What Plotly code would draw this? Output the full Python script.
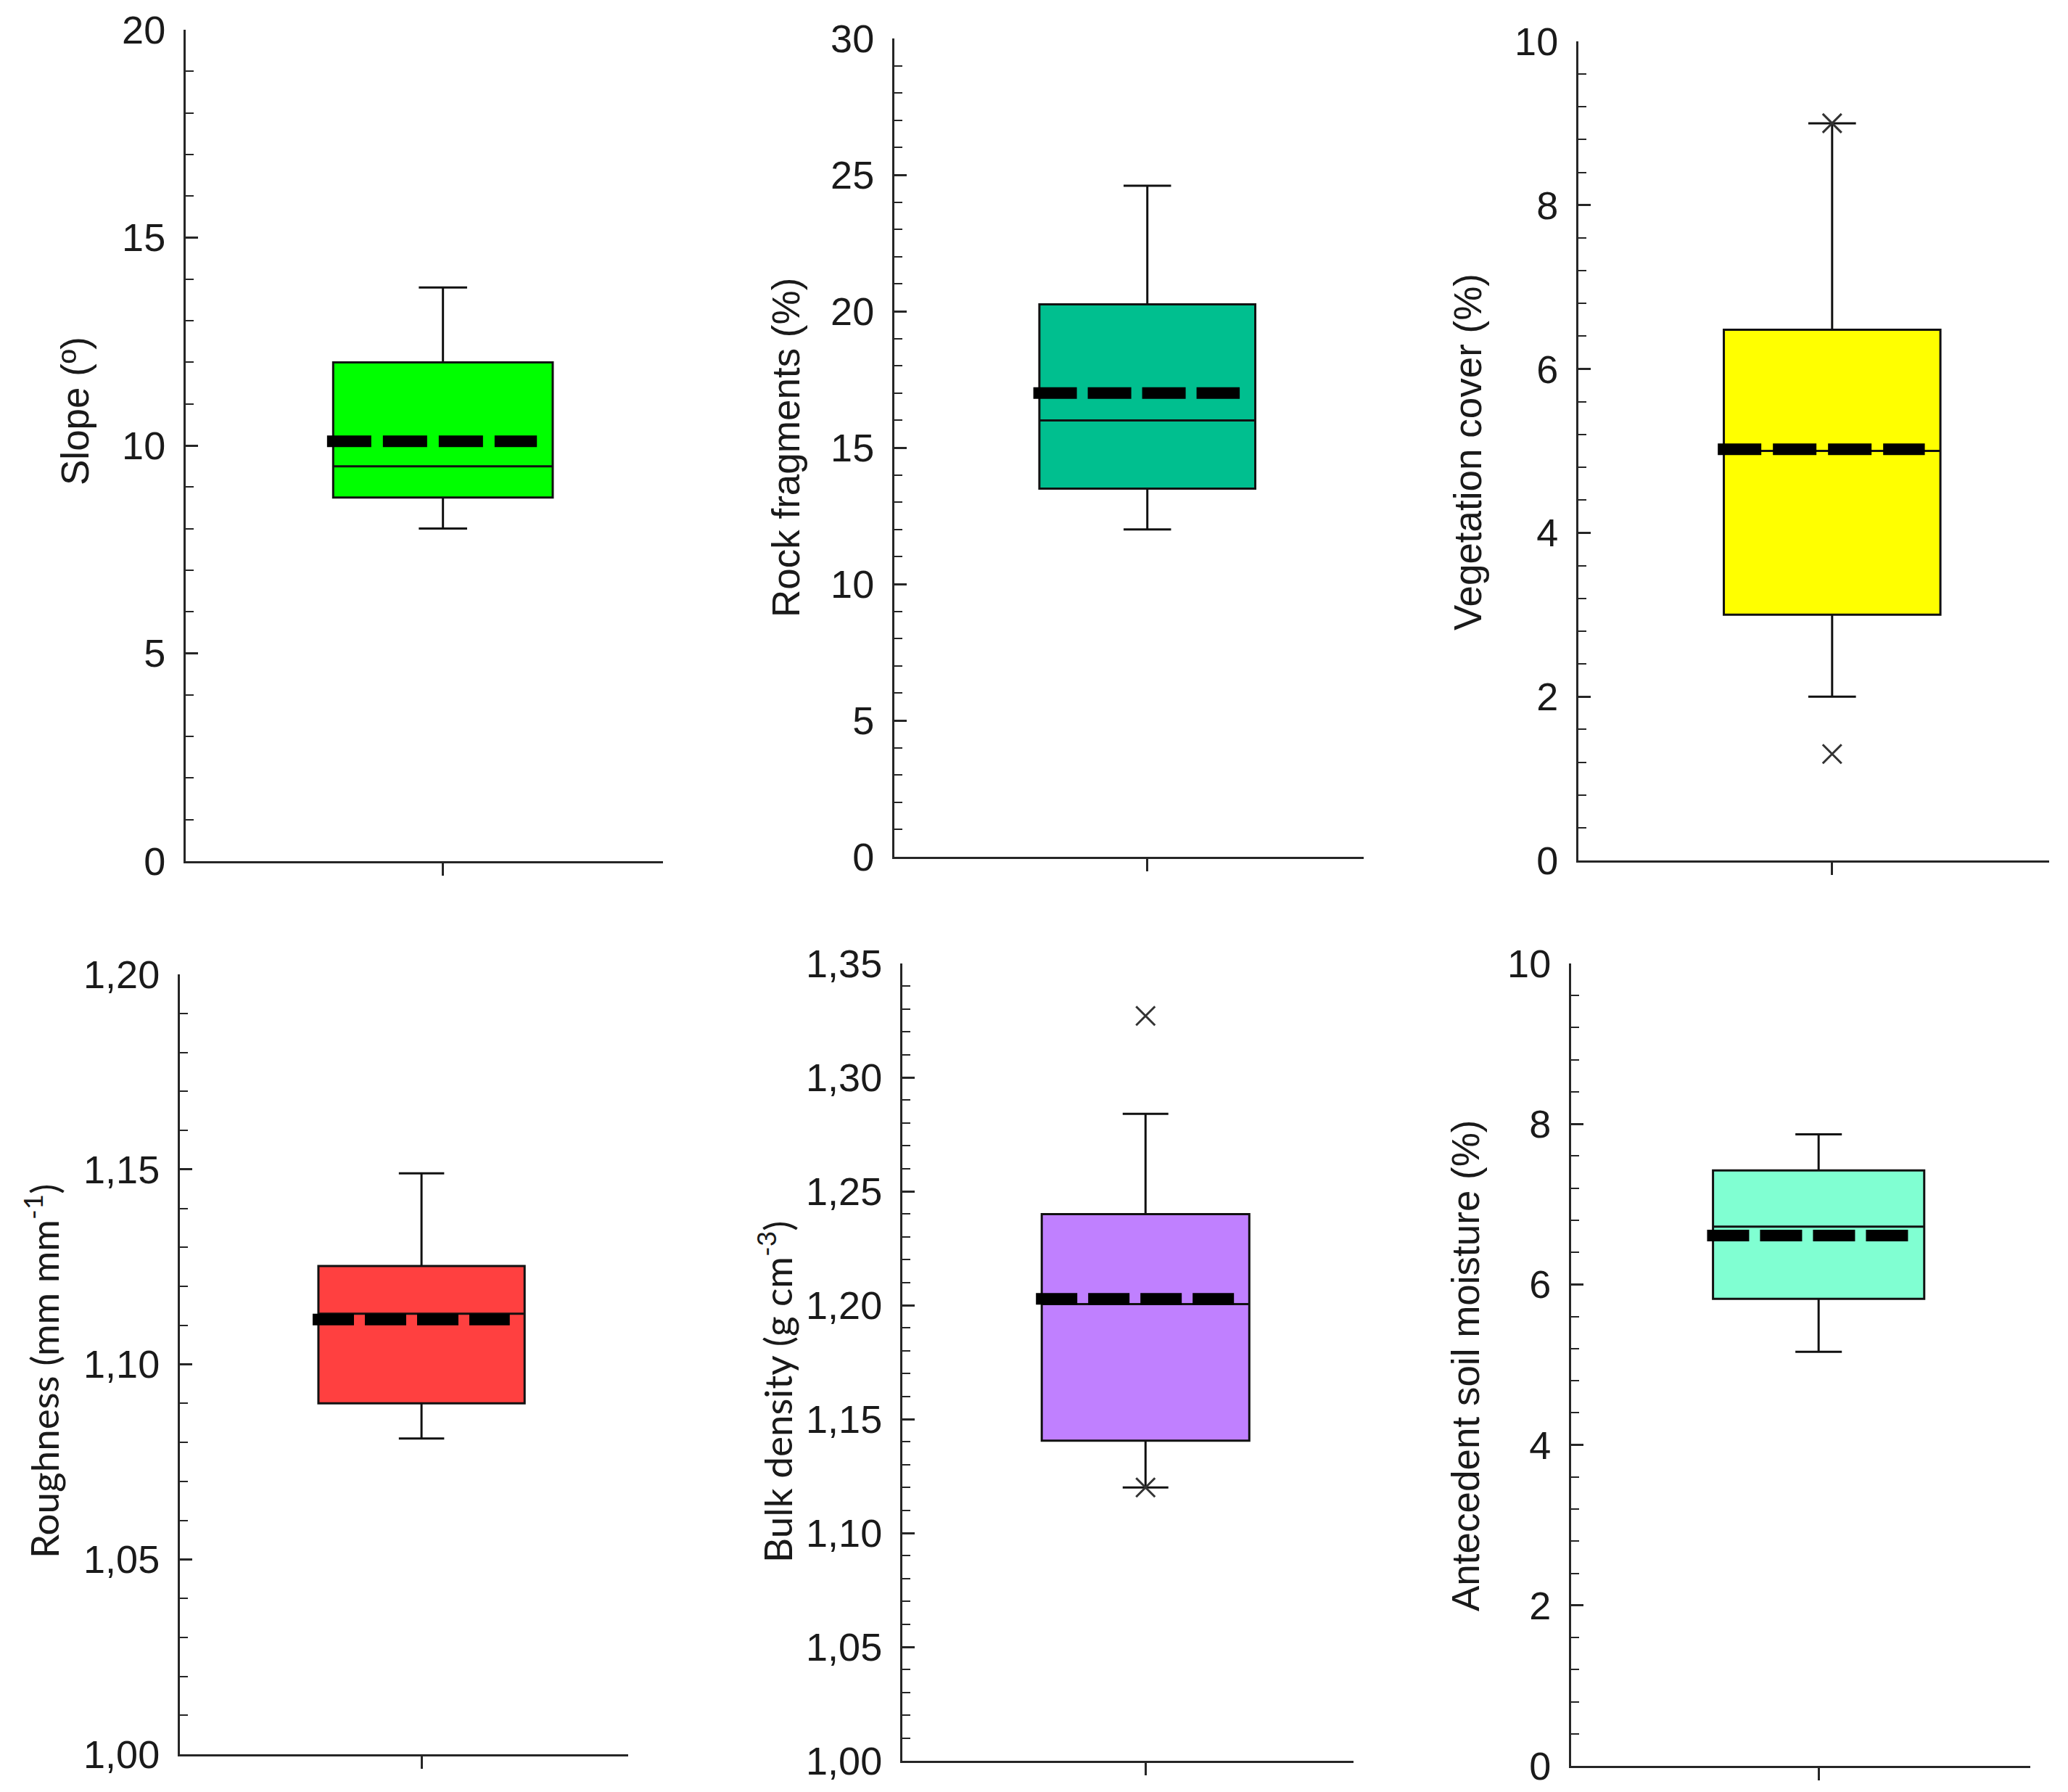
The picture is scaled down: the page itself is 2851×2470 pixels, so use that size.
import plotly.graph_objects as go

W, H = 2851, 2470

# --- data (one box per panel) ---
titles = ["Slope (º)", "Rock fragments (%)", "Vegetation cover (%)",
          "Roughness (mm mm<sup>-1</sup>)", "Bulk density (g cm<sup>-3</sup>)",
          "Antecedent soil moisture (%)"]
fill_colors = ["#00FF00", "#00BF8F", "#FFFF00", "#FF4040", "#C080FF", "#80FFD2"]

lower_whisker = [8.0, 12.0, 2.0, 1.081, 1.120, 5.16]
q1 = [8.75, 13.5, 3.0, 1.090, 1.1405, 5.82]
median = [9.5, 16.0, 5.0, 1.113, 1.2005, 6.72]
q3 = [12.0, 20.25, 6.48, 1.1252, 1.240, 7.42]
upper_whisker = [13.8, 24.6, 9.0, 1.149, 1.284, 7.87]
means = [10.1, 17.0, 5.02, 1.1115, 1.2028, 6.61]
outliers = [[], [], [9.0, 1.3], [], [1.327, 1.120], []]

y_ranges = [(0, 20), (0, 30), (0, 10), (1.0, 1.2), (1.0, 1.35), (0, 10)]
y_major = [5, 5, 2, 0.05, 0.05, 2]
y_minor = [1, 1, 0.4, 0.01, 0.01, 0.4]
y_format = ["d", "d", "d", ".2f", ".2f", "d"]

# --- layout geometry (pixels in the final picture) ---
panel_px = [(256, 914, 41, 1187), (1233, 1880, 53, 1181), (2176, 2825, 57, 1186),
            (248, 866, 1343, 2418), (1244, 1866, 1328, 2427), (2166, 2799, 1328, 2434)]
title_px = [(103, 567), (1083, 617), (2024, 623), (57, 1890), (1068, 1919), (2020, 1882)]
title_fonts = ["Liberation Sans"] * 3 + ["Lato", "Lato", "Liberation Sans"]
PAGE_PAD = 8  # browser body margin


def px_x(p):
    return (p - PAGE_PAD) / W


def px_y(p):
    return 1 - (p - PAGE_PAD) / H


BOX_X = 0.539
BOX_W = 0.46
AX = "#262626"

fig = go.Figure()
layout = {}
annotations = []

for i in range(6):
    n = "" if i == 0 else str(i + 1)
    xa, ya = "x" + n, "y" + n
    x0, x1, yt, yb = panel_px[i]

    fig.add_trace(go.Box(
        x=[BOX_X], q1=[q1[i]], median=[median[i]], q3=[q3[i]],
        lowerfence=[lower_whisker[i]], upperfence=[upper_whisker[i]],
        width=BOX_W, whiskerwidth=0.22, fillcolor=fill_colors[i],
        line=dict(color="#111111", width=3), boxpoints=False,
        showlegend=False, hoverinfo="skip", xaxis=xa, yaxis=ya))

    # thick dashed mean line across the box (4 dashes)
    box_px = BOX_W * (x1 - x0)
    left = BOX_X - BOX_W / 2 - 0.028 * BOX_W
    right = left + 0.956 * BOX_W
    dash = f"{0.2 * box_px:.0f}px,{0.052 * box_px:.0f}px"
    fig.add_trace(go.Scatter(
        x=[left, right], y=[means[i], means[i]], mode="lines",
        line=dict(color="black", width=16, dash=dash),
        showlegend=False, hoverinfo="skip", xaxis=xa, yaxis=ya))

    if outliers[i]:
        fig.add_trace(go.Scatter(
            x=[BOX_X] * len(outliers[i]), y=outliers[i], mode="markers",
            marker=dict(symbol="x-thin", size=26, line=dict(width=3, color="#333333")),
            showlegend=False, hoverinfo="skip", xaxis=xa, yaxis=ya))

    layout["xaxis" + n] = dict(
        domain=[px_x(x0), px_x(x1)], range=[0, 1], anchor=ya, automargin=False,
        showline=True, linecolor=AX, linewidth=3, showgrid=False, zeroline=False,
        tickmode="array", tickvals=[BOX_X], ticks="outside", ticklen=17,
        tickwidth=3, tickcolor=AX, showticklabels=False, fixedrange=True)
    layout["yaxis" + n] = dict(
        domain=[px_y(yb), px_y(yt)], range=list(y_ranges[i]), anchor=xa,
        automargin=False,
        showline=True, linecolor=AX, linewidth=3, showgrid=False, zeroline=False,
        tickmode="linear", tick0=y_ranges[i][0], dtick=y_major[i],
        tickformat=y_format[i], ticks="inside", ticklen=17, tickwidth=3,
        tickcolor=AX, ticklabelstandoff=14,
        tickfont=dict(family="Liberation Sans", size=54, color="#1a1a1a"),
        minor=dict(dtick=y_minor[i], ticks="inside", ticklen=11, tickwidth=2,
                   tickcolor=AX, showgrid=False),
        fixedrange=True)

    tx, ty = title_px[i]
    annotations.append(dict(
        text=titles[i], x=px_x(tx), y=px_y(ty), xref="paper", yref="paper",
        textangle=-90, showarrow=False, xanchor="center", yanchor="middle",
        font=dict(family=title_fonts[i], size=53, color="#1a1a1a")))

fig.update_layout(
    width=W, height=H, margin=dict(l=0, r=0, t=0, b=0),
    paper_bgcolor="white", plot_bgcolor="white", separators=", ",
    annotations=annotations, **layout)

fig.write_html("out.html")
